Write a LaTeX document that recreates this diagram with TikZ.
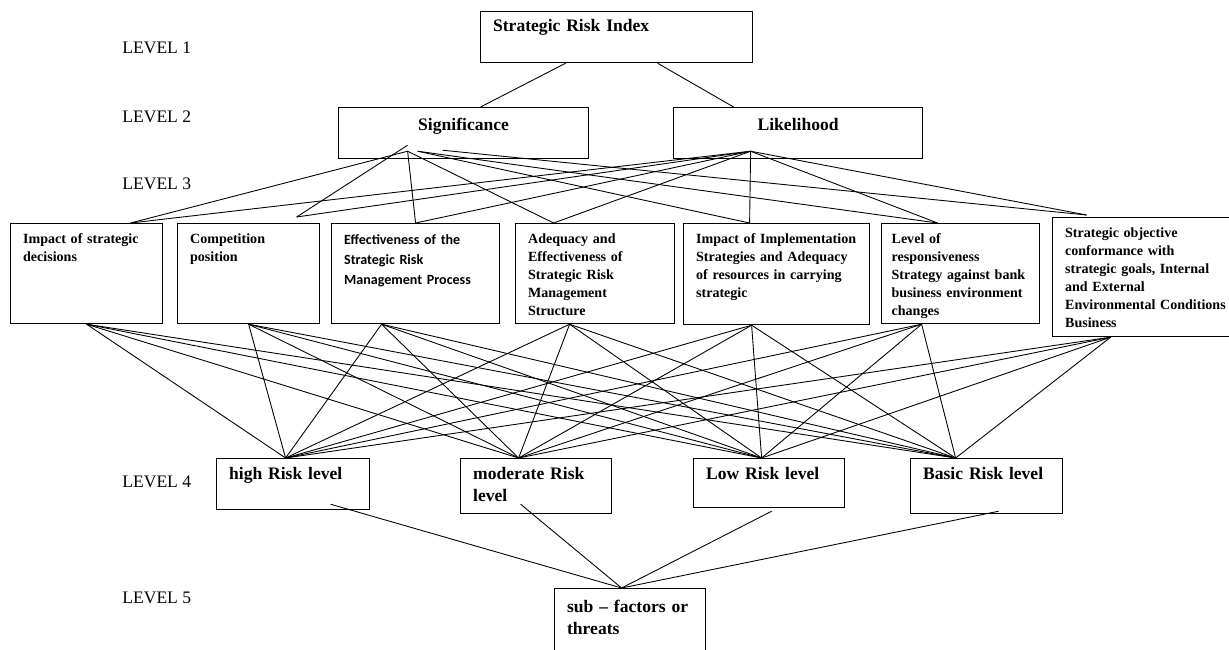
\documentclass[tikz,border=0pt]{standalone}
\usepackage{fontspec}
\setmainfont{Liberation Serif}
\newfontfamily\calibrifont{Carlito}
\usetikzlibrary{calc}
\tikzset{
  level/.style={anchor=west, inner sep=0pt, font=\fontsize{10}{12}\selectfont},
  box/.style={draw, line width=0.7pt, anchor=north west, align=left, inner xsep=0.25cm, inner ysep=0pt,
    font=\bfseries\fontsize{10}{12.5}\selectfont},
  smallbox/.style={box, font=\bfseries\fontsize{8}{10.2}\selectfont},
  link/.style={line width=0.5pt}
}
\begin{document}
\begin{tikzpicture}[x=0.02cm, y=-0.02cm]
  \clip (0,0) rectangle (1229,649);

  % level labels
  \node[level] (lv1) at (122,48) {LEVEL 1};
  \node[level] (lv2) at (122,117) {LEVEL 2};
  \node[level] (lv3) at (122,184) {LEVEL 3};
  \node[level] (lv4) at (122,482) {LEVEL 4};
  \node[level] (lv5) at (122,598) {LEVEL 5};

  % level 1 and 2
  \node[box, text width=4.94cm, text height=0.40cm, text depth=0.62cm] (sri) at (480,11) {Strategic Risk Index};
  \node[box, align=center, text width=4.5cm, text height=0.46cm, text depth=0.56cm] (sig) at (338,107) {Significance};
  \node[box, align=center, text width=4.48cm, text height=0.46cm, text depth=0.56cm] (lik) at (673,107) {Likelihood};

  % level 3
  \node[smallbox, text width=2.54cm, text height=0.40cm, text depth=1.60cm] (imp) at (10,223) {Impact of strategic\\decisions};
  \node[smallbox, text width=2.34cm, text height=0.40cm, text depth=1.60cm] (com) at (177,223) {Competition\\position};
  \node[smallbox, font=\calibrifont\bfseries\fontsize{8}{11.3}\selectfont, text width=2.86cm, text height=0.42cm, text depth=1.58cm] (eff) at (331,223)
    {Effectiveness of the\\Strategic Risk\\Management Process};
  \node[smallbox, text width=2.68cm, text height=0.40cm, text depth=1.60cm] (ade) at (515,223)
    {Adequacy and\\Effectiveness of\\Strategic Risk\\Management\\Structure};
  \node[smallbox, text width=3.22cm, text height=0.40cm, text depth=1.62cm] (imi) at (683,223)
    {Impact of Implementation\\Strategies and Adequacy\\of resources in carrying\\strategic};
  \node[smallbox, inner xsep=0.2cm, text width=2.76cm, text height=0.40cm, text depth=1.60cm] (lev) at (881,223)
    {Level of\\responsiveness\\Strategy against bank\\business environment\\changes};
  \node[smallbox, text width=3.3cm, text height=0.40cm, text depth=1.98cm] (obj) at (1052,217)
    {Strategic objective\\conformance with\\strategic goals, Internal\\and External\\Environmental Conditions\\Business};

  % level 4 and 5
  \node[box, text width=2.56cm, text height=0.42cm, text depth=0.60cm] (high) at (216,458) {high Risk level};
  \node[box, text width=2.52cm, text height=0.42cm, text depth=0.68cm] (mod) at (460,458) {moderate Risk\\level};
  \node[box, text width=2.52cm, text height=0.42cm, text depth=0.56cm] (low) at (693,458) {Low Risk level};
  \node[box, text width=2.54cm, text height=0.42cm, text depth=0.68cm] (bas) at (910,458) {Basic Risk level};
  \node[box, text width=2.52cm, text height=0.48cm, text depth=0.92cm] (sub) at (554,588) {sub -- factors or\\threats};

  % connection points
  \coordinate (sri-l) at ([xshift=-1.02cm]sri.south);
  \coordinate (sri-r) at ([xshift=0.82cm]sri.south);
  \coordinate (sig-t) at ([xshift=0.34cm]sig.north);
  \coordinate (lik-t) at ([xshift=-1.29cm]lik.north);
  \coordinate (sig-a) at ([shift={(-1.12cm,0.28cm)}]sig.south);
  \coordinate (sig-b) at ([shift={(-1.12cm,0.16cm)}]sig.south);
  \coordinate (sig-c) at ([shift={(-0.92cm,0.16cm)}]sig.south);
  \coordinate (sig-d) at ([shift={(-0.42cm,0.18cm)}]sig.south);
  \coordinate (lik-b) at ([shift={(-0.95cm,0.16cm)}]lik.south);
  \foreach \n/\tp/\up/\bt in {imp/0.88/0/0, com/0.96/0.12/0, eff/0/0/-0.68, ade/-0.83/0/-0.51,
      imi/-0.54/0/-0.50, lev/-0.46/0/-0.78, obj/-1.22/0.04/-0.74} {
    \coordinate (\n-t) at ([shift={(\tp cm,\up cm)}]\n.north);
    \coordinate (\n-b) at ([xshift=\bt cm]\n.south);
  }
  \foreach \n/\s in {high/-0.15, mod/-0.35, low/-0.15, bas/-0.62}
    \coordinate (\n-t) at ([xshift=\s cm]\n.north);
  \coordinate (high-b) at ([shift={(0.75cm,0.12cm)}]high.south);
  \coordinate (mod-b) at ([shift={(-0.31cm,0.2cm)}]mod.south);
  \coordinate (low-b) at ([shift={(0.05cm,-0.06cm)}]low.south);
  \coordinate (bas-b) at ([shift={(0.24cm,0.06cm)}]bas.south);
  \coordinate (sub-t) at ([xshift=-0.17cm]sub.north);

  % links
  \draw[link] (sri-l) -- (sig-t);
  \draw[link] (sri-r) -- (lik-t);
  \draw[link] (sig-a) -- (com-t);
  \foreach \n in {imp,eff,ade} \draw[link] (sig-b) -- (\n-t);
  \foreach \n in {imi,lev} \draw[link] (sig-c) -- (\n-t);
  \draw[link] (sig-d) -- (obj-t);
  \foreach \n in {imp,com,eff,ade,imi,lev,obj} \draw[link] (lik-b) -- (\n-t);
  \foreach \a in {imp,com,eff,ade,imi,lev,obj}
    \foreach \b in {high,mod,low,bas}
      \draw[link] (\a-b) -- (\b-t);
  \foreach \n in {high,mod,low,bas} \draw[link] (\n-b) -- (sub-t);
\end{tikzpicture}
\end{document}
